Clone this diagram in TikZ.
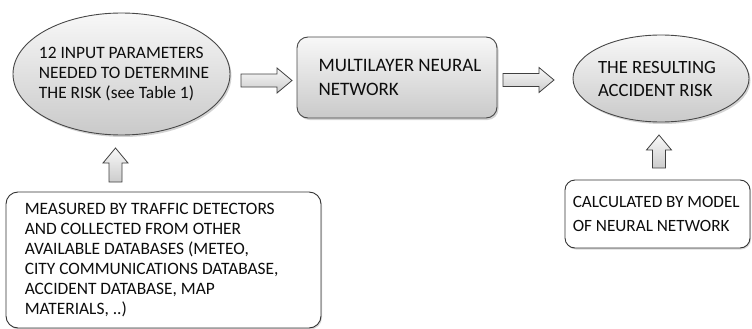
\documentclass[tikz,border=0pt]{standalone}
\usepackage{fontspec}
\setmainfont{Carlito}
\usetikzlibrary{shapes.geometric,shadows,calc}
\tikzset{
  txt/.style={text=black!95, align=left, inner sep=0pt},
  grayshape/.style={draw=black!72, line width=0.9pt, top color=gray!6, bottom color=gray!42,
    drop shadow={opacity=0.35, shadow xshift=1.5pt, shadow yshift=-2pt}},
  whitebox/.style={draw=black!80, line width=0.9pt, fill=white, rounded corners=12pt,
    drop shadow={opacity=0.3, shadow xshift=1pt, shadow yshift=-1.5pt}},
  barrow/.style={draw=black!75, line width=0.8pt, top color=gray!5, bottom color=gray!40, line join=miter},
}
\newcommand\HArrow[2]{%
  \path[barrow] ($(#1)+(0pt,6.5pt)$) -- ($(#2)+(-15pt,6.5pt)$) -- ($(#2)+(-15pt,12.5pt)$) -- (#2)
    -- ($(#2)+(-15pt,-12.5pt)$) -- ($(#2)+(-15pt,-6.5pt)$) -- ($(#1)+(0pt,-6.5pt)$) -- cycle;}
\newcommand\UArrow[2]{%
  \path[barrow] ($(#1)+(-6.5pt,0pt)$) -- ($(#2)+(-6.5pt,-15pt)$) -- ($(#2)+(-12.5pt,-15pt)$) -- (#2)
    -- ($(#2)+(12.5pt,-15pt)$) -- ($(#2)+(6.5pt,-15pt)$) -- ($(#1)+(6.5pt,0pt)$) -- cycle;}
\begin{document}
\begin{tikzpicture}[x=1pt,y=-1pt]
\useasboundingbox (0,0) rectangle (752,329);
% top row shapes
\node[grayshape, ellipse, minimum width=217pt, minimum height=122pt, inner sep=0pt] (e1) at (121.5,74) {};
\node[txt, font=\fontsize{17.4}{20}\selectfont] (e1t) at ([xshift=2.5pt]e1.center) {12 INPUT PARAMETERS\\NEEDED TO DETERMINE\\THE RISK (see Table 1)};
\node[grayshape, rectangle, rounded corners=11pt, minimum width=200pt, minimum height=81pt] (nn) at (397,77.5) {};
\node[txt, font=\fontsize{19}{24}\selectfont] (nnt) at ([xshift=3pt]nn.center) {MULTILAYER NEURAL\\NETWORK};
\node[grayshape, ellipse, minimum width=176pt, minimum height=87pt, inner sep=0pt] (e2) at (661,78.5) {};
\node[txt, font=\fontsize{18.7}{23}\selectfont] (e2t) at ([xshift=-4pt]e2.center) {THE RESULTING\\ACCIDENT RISK};
% bottom boxes
\node[whitebox, minimum width=315pt, minimum height=136pt] (b1) at (163.5,260) {};
\node[txt, font=\fontsize{17.4}{20}\selectfont, anchor=west] (b1t) at ([xshift=19pt]b1.west) {MEASURED BY TRAFFIC DETECTORS\\AND COLLECTED FROM OTHER\\AVAILABLE DATABASES (METEO,\\CITY COMMUNICATIONS DATABASE,\\ACCIDENT DATABASE, MAP\\MATERIALS, ..)};
\node[whitebox, rounded corners=10pt, minimum width=185pt, minimum height=68pt] (b2) at (657.5,214) {};
\node[txt, font=\fontsize{17.2}{23.5}\selectfont, anchor=west] (b2t) at ([xshift=8pt]b2.west) {CALCULATED BY MODEL\\OF NEURAL NETWORK};
% block arrows
\coordinate (a1s) at (241,80.5);
\coordinate (a1e) at (292,80.5);
\coordinate (a2s) at (503,80);
\coordinate (a2e) at (554,80);
\coordinate (u1s) at (115.5,182);
\coordinate (u1e) at (115.5,148);
\coordinate (u2s) at (659,168);
\coordinate (u2e) at (659,135);
\HArrow{a1s}{a1e}
\HArrow{a2s}{a2e}
\UArrow{u1s}{u1e}
\UArrow{u2s}{u2e}
\end{tikzpicture}
\end{document}
